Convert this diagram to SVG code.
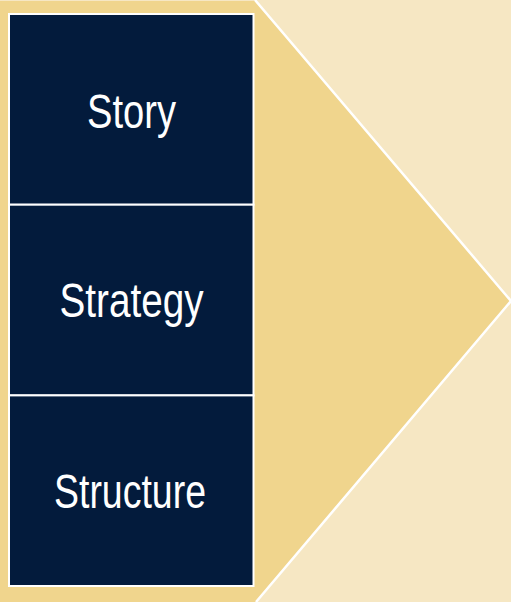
<svg xmlns="http://www.w3.org/2000/svg" width="511" height="602" viewBox="0 0 511 602">
  <style>
    .box { fill: #031B3C; stroke: #FFFFFF; stroke-width: 2; }
    .lbl { fill: #FFFFFF; font-family: "Liberation Sans", Arial, sans-serif; font-size: 48px; text-anchor: middle; }
  </style>
  <rect x="0" y="0" width="511" height="602" fill="#F6E7C3"/>
  <g id="arrow">
    <polygon points="0,1 255,1 511,301 257,602 0,602" fill="#F0D58D"/>
    <polyline points="255,0 511,301 256,602" fill="none" stroke="#FFFFFF" stroke-width="2.5"/>
  </g>
  <g id="story">
    <rect class="box" x="9" y="14" width="244.5" height="190.7"/>
    <text class="lbl" x="131.5" y="127.5" textLength="89" lengthAdjust="spacingAndGlyphs">Story</text>
  </g>
  <g id="strategy">
    <rect class="box" x="9" y="204.7" width="244.5" height="190.7"/>
    <text class="lbl" x="131.5" y="317" textLength="144" lengthAdjust="spacingAndGlyphs">Strategy</text>
  </g>
  <g id="structure">
    <rect class="box" x="9" y="395.4" width="244.5" height="190.6"/>
    <text class="lbl" x="130" y="507.5" textLength="152" lengthAdjust="spacingAndGlyphs">Structure</text>
  </g>
  <g id="connectors"></g>
</svg>
